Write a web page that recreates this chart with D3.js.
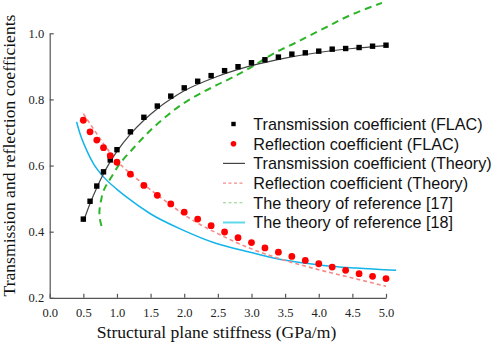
<!DOCTYPE html>
<html>
<head>
<meta charset="utf-8">
<script src="https://cdn.jsdelivr.net/npm/d3@7"></script>
<style>
  html,body{margin:0;padding:0;background:#fff;}
  svg{display:block;}
</style>
</head>
<body>
<svg id="chart" width="498" height="346"></svg>
<script>
// ---- data ----
const stiffFLAC = [0.5,0.6,0.7,0.8,0.9,1.0,1.2,1.4,1.6,1.8,2.0,2.2,2.4,2.6,2.8,3.0,3.2,3.4,3.6,3.8,4.0,4.2,4.4,4.6,4.8,5.0];
const transFLAC = [0.438,0.492,0.538,0.581,0.617,0.648,0.702,0.746,0.780,0.810,0.835,0.855,0.872,0.887,0.899,0.911,0.920,0.928,0.937,0.941,0.946,0.952,0.954,0.957,0.961,0.964];
const reflFLAC  = [0.737,0.702,0.677,0.654,0.630,0.610,0.574,0.540,0.510,0.484,0.459,0.438,0.418,0.399,0.382,0.367,0.351,0.338,0.325,0.313,0.303,0.293,0.283,0.273,0.265,0.258];

const stiffTheory = [0.5,0.6,0.7,0.8,0.9,1.0,1.2,1.4,1.6,1.8,2.0,2.5,3.0,3.5,4.0,4.5,5.0];
const transTheory = [0.430,0.485,0.533,0.575,0.612,0.643,0.695,0.737,0.772,0.801,0.826,0.870,0.902,0.925,0.942,0.954,0.963];
const reflTheory  = [0.757,0.726,0.696,0.666,0.639,0.614,0.576,0.543,0.511,0.481,0.451,0.394,0.348,0.313,0.285,0.260,0.235];

const ref17X = [0.77,0.745,0.74,0.76,0.79,0.84,0.91,1.04,1.26,1.49,1.74,1.98,2.23,2.48,2.73,3.0,3.32,3.67,4.07,4.46,4.94];
const ref17Y = [0.417,0.44,0.465,0.49,0.518,0.54,0.563,0.605,0.656,0.705,0.75,0.787,0.817,0.843,0.868,0.898,0.938,0.973,1.014,1.054,1.092];

const ref18X = [0.40,0.45,0.55,0.65,0.79,1.0,1.14,1.49,1.99,2.48,2.98,3.38,3.87,4.07,4.56,5.15];
const ref18Y = [0.732,0.697,0.646,0.606,0.568,0.528,0.505,0.455,0.404,0.364,0.338,0.318,0.303,0.298,0.290,0.283];

const xTicks = [0,0.5,1,1.5,2,2.5,3,3.5,4,4.5,5];
const yTicks = [0.2,0.4,0.6,0.8,1.0];
const legendLabels = [
  "Transmission coefficient (FLAC)",
  "Reflection coefficient (FLAC)",
  "Transmission coefficient (Theory)",
  "Reflection coefficient (Theory)",
  "The theory of reference [17]",
  "The theory of reference [18]"
];
const xTitle = "Structural plane stiffness (GPa/m)";
const yTitle = "Transmission and reflection coefficients";

// ---- drawing ----
const svg = d3.select("#chart");
const x = d3.scaleLinear().domain([0,5]).range([49.7,386]);
const y = d3.scaleLinear().domain([0.2,1.0]).range([297.8,33.3]);

const serif = "'Liberation Serif','Times New Roman',serif";
const sans = "'Liberation Sans',Arial,sans-serif";

const zip = (xs, ys) => xs.map((v,i)=>[v, ys[i]]);
const line = d3.line().x(d=>x(d[0])).y(d=>y(d[1]));

// axes
const gx = svg.append("g").attr("transform",`translate(0,${y(0.2)})`)
  .call(d3.axisBottom(x).tickValues(xTicks).tickFormat(d3.format(".1f"))
        .tickSizeInner(-4).tickSizeOuter(0).tickPadding(10));
const gy = svg.append("g").attr("transform",`translate(${x(0)},0)`)
  .call(d3.axisLeft(y).tickValues(yTicks).tickFormat(d3.format(".1f"))
        .tickSizeInner(-4).tickSizeOuter(0).tickPadding(5.5));
[gx,gy].forEach(g=>{
  g.select(".domain").attr("stroke","#555").attr("stroke-width",1.2);
  g.selectAll(".tick line").attr("stroke","#555").attr("stroke-width",1.2);
  g.selectAll(".tick text").attr("font-family",serif).attr("font-size",12.5).attr("fill","#222");
});

// lines
svg.append("path").datum(zip(ref18X, ref18Y))
  .attr("d", line.curve(d3.curveMonotoneX)).attr("fill","none")
  .attr("stroke","#12b4ea").attr("stroke-width",1.5);
svg.append("path").datum(zip(ref17X, ref17Y))
  .attr("d", d3.line().x(d=>x(d[0])).y(d=>y(d[1])).curve(d3.curveCatmullRom)).attr("fill","none")
  .attr("stroke","#2db52a").attr("stroke-width",2).attr("stroke-dasharray","7,5");
svg.append("path").datum(zip(stiffTheory, reflTheory))
  .attr("d", line.curve(d3.curveMonotoneX)).attr("fill","none")
  .attr("stroke","#f58a8a").attr("stroke-width",1.6).attr("stroke-dasharray","4,3");
svg.append("path").datum(zip(stiffTheory, transTheory))
  .attr("d", line.curve(d3.curveMonotoneX)).attr("fill","none")
  .attr("stroke","#444").attr("stroke-width",1.2);

// markers
svg.append("g").selectAll("rect").data(zip(stiffFLAC, transFLAC)).join("rect")
  .attr("x", d=>x(d[0])-2.7).attr("y", d=>y(d[1])-2.7)
  .attr("width",5.4).attr("height",5.4).attr("fill","#000");
svg.append("g").selectAll("circle").data(zip(stiffFLAC, reflFLAC)).join("circle")
  .attr("cx", d=>x(d[0])).attr("cy", d=>y(d[1])).attr("r",3.4).attr("fill","#ff0000");

// titles
svg.append("text").attr("x",216.5).attr("y",338).attr("text-anchor","middle")
  .attr("font-family",serif).attr("font-size",17.6).attr("fill","#111").text(xTitle);
svg.append("text").attr("transform","translate(15,155.5) rotate(-90)").attr("text-anchor","middle")
  .attr("font-family",serif).attr("font-size",17.6).attr("fill","#111").text(yTitle);

// legend
const lg = svg.append("g");
const rowY = i => 124 + i*19.7;
const symX = 233.5;
lg.append("rect").attr("x",symX-2.2).attr("y",rowY(0)-2.2).attr("width",4.4).attr("height",4.4).attr("fill","#000");
lg.append("circle").attr("cx",symX).attr("cy",rowY(1)).attr("r",2.8).attr("fill","#ff0000");
const legLines = [
  {i:2, stroke:"#444", w:1.2, dash:null},
  {i:3, stroke:"#f58a8a", w:1.4, dash:"3,2.5"},
  {i:4, stroke:"#8fd08a", w:1.1, dash:"3,2.5"},
  {i:5, stroke:"#5fd8ea", w:2, dash:null}
];
legLines.forEach(l=>{
  lg.append("line").attr("x1",223).attr("x2",245).attr("y1",rowY(l.i)).attr("y2",rowY(l.i))
    .attr("stroke",l.stroke).attr("stroke-width",l.w).attr("stroke-dasharray",l.dash);
});
lg.selectAll("text.lab").data(legendLabels).join("text").attr("class","lab")
  .attr("x",253.3).attr("y",(d,i)=>rowY(i)).attr("dy","0.36em")
  .attr("font-family",sans).attr("font-size",16.2).attr("fill","#111").text(d=>d);
</script>
</body>
</html>
